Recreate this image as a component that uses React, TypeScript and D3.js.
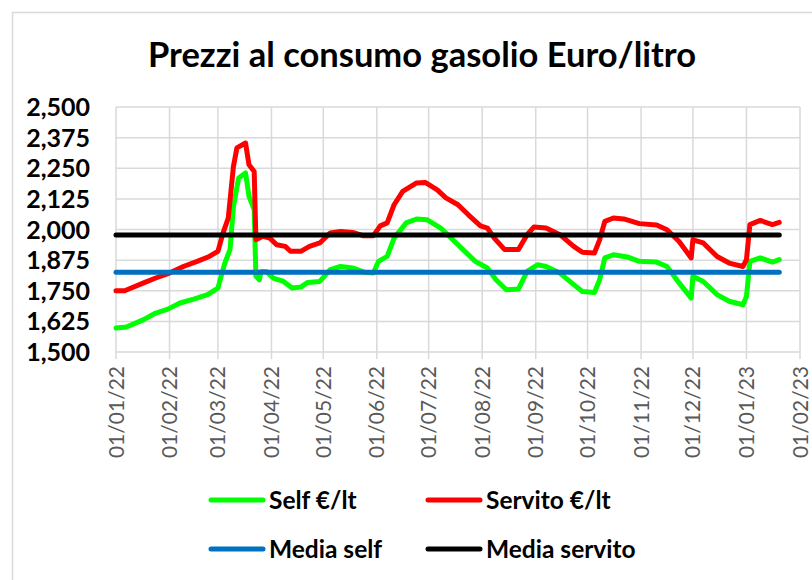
import { useEffect, useRef } from 'react'
import * as d3 from 'd3'

// Prezzi medi gasolio, data -> Euro/litro
const selfPrices: [string, number][] = [
  ['2022-01-01', 1.598], ['2022-01-07', 1.602], ['2022-01-17', 1.632], ['2022-01-24', 1.659],
  ['2022-01-31', 1.675], ['2022-02-07', 1.7], ['2022-02-15', 1.716], ['2022-02-23', 1.734],
  ['2022-03-01', 1.761], ['2022-03-05', 1.863], ['2022-03-08', 1.918], ['2022-03-10', 2.094],
  ['2022-03-13', 2.21], ['2022-03-17', 2.231], ['2022-03-19', 2.135], ['2022-03-22', 2.081],
  ['2022-03-23', 1.809], ['2022-03-25', 1.795], ['2022-03-26', 1.829], ['2022-03-29', 1.829],
  ['2022-04-02', 1.802], ['2022-04-08', 1.788], ['2022-04-13', 1.761], ['2022-04-18', 1.765],
  ['2022-04-22', 1.784], ['2022-04-29', 1.788], ['2022-05-05', 1.836], ['2022-05-11', 1.849],
  ['2022-05-18', 1.843], ['2022-05-25', 1.825], ['2022-05-30', 1.822], ['2022-06-02', 1.87],
  ['2022-06-07', 1.89], ['2022-06-11', 1.965], ['2022-06-18', 2.027], ['2022-06-24', 2.043],
  ['2022-06-30', 2.04], ['2022-07-08', 2.006], ['2022-07-18', 1.938], ['2022-07-20', 1.924],
  ['2022-07-28', 1.87], ['2022-08-04', 1.843], ['2022-08-09', 1.795], ['2022-08-15', 1.754],
  ['2022-08-22', 1.757], ['2022-08-27', 1.829], ['2022-09-02', 1.856], ['2022-09-07', 1.849],
  ['2022-09-15', 1.822], ['2022-09-23', 1.775], ['2022-09-28', 1.747], ['2022-10-05', 1.743],
  ['2022-10-08', 1.795], ['2022-10-11', 1.884], ['2022-10-16', 1.897], ['2022-10-24', 1.888],
  ['2022-10-31', 1.87], ['2022-11-10', 1.867], ['2022-11-16', 1.849], ['2022-11-23', 1.782],
  ['2022-11-30', 1.72], ['2022-12-01', 1.809], ['2022-12-07', 1.788], ['2022-12-15', 1.734],
  ['2022-12-22', 1.707], ['2022-12-30', 1.693], ['2023-01-01', 1.727], ['2023-01-03', 1.87],
  ['2023-01-09', 1.884], ['2023-01-16', 1.867], ['2023-01-20', 1.877],
]

const servitoPrices: [string, number][] = [
  ['2022-01-01', 1.75], ['2022-01-06', 1.75], ['2022-01-17', 1.782], ['2022-01-24', 1.802],
  ['2022-02-01', 1.822], ['2022-02-09', 1.849], ['2022-02-17', 1.87], ['2022-02-24', 1.89],
  ['2022-03-01', 1.911], ['2022-03-04', 1.986], ['2022-03-07', 2.047], ['2022-03-10', 2.258],
  ['2022-03-12', 2.333], ['2022-03-17', 2.353], ['2022-03-19', 2.264], ['2022-03-22', 2.237],
  ['2022-03-23', 1.958], ['2022-03-27', 1.972], ['2022-03-31', 1.965], ['2022-04-04', 1.938],
  ['2022-04-09', 1.931], ['2022-04-12', 1.911], ['2022-04-18', 1.911], ['2022-04-23', 1.931],
  ['2022-04-29', 1.945], ['2022-05-05', 1.986], ['2022-05-11', 1.992], ['2022-05-18', 1.988],
  ['2022-05-24', 1.975], ['2022-05-30', 1.975], ['2022-06-03', 2.015], ['2022-06-07', 2.027],
  ['2022-06-11', 2.101], ['2022-06-16', 2.156], ['2022-06-24', 2.19], ['2022-06-29', 2.192],
  ['2022-07-06', 2.162], ['2022-07-11', 2.129], ['2022-07-18', 2.101], ['2022-07-24', 2.06],
  ['2022-07-31', 2.015], ['2022-08-04', 2.006], ['2022-08-08', 1.965], ['2022-08-14', 1.918],
  ['2022-08-22', 1.918], ['2022-08-27', 1.979], ['2022-08-31', 2.01], ['2022-09-07', 2.006],
  ['2022-09-15', 1.979], ['2022-09-23', 1.931], ['2022-09-28', 1.907], ['2022-10-05', 1.904],
  ['2022-10-08', 1.958], ['2022-10-11', 2.033], ['2022-10-16', 2.047], ['2022-10-22', 2.043],
  ['2022-10-31', 2.024], ['2022-11-10', 2.018], ['2022-11-16', 1.999], ['2022-11-23', 1.951],
  ['2022-11-30', 1.884], ['2022-12-01', 1.958], ['2022-12-07', 1.945], ['2022-12-15', 1.89],
  ['2022-12-22', 1.863], ['2022-12-30', 1.849], ['2023-01-01', 1.877], ['2023-01-03', 2.02],
  ['2023-01-09', 2.037], ['2023-01-16', 2.02], ['2023-01-20', 2.029],
]

const mediaSelf = 1.826
const mediaServito = 1.978
const periodDates = ['2022-01-01', '2023-01-20']

const yTicks = [1.5, 1.625, 1.75, 1.875, 2.0, 2.125, 2.25, 2.375, 2.5]
const monthTicks = [
  '2022-01-01', '2022-02-01', '2022-03-01', '2022-04-01', '2022-05-01', '2022-06-01',
  '2022-07-01', '2022-08-01', '2022-09-01', '2022-10-01', '2022-11-01', '2022-12-01',
  '2023-01-01', '2023-02-01',
]

const legendItems = [
  { label: 'Self €/lt', color: '#00ff00', col: 0, row: 0 },
  { label: 'Servito €/lt', color: '#ff0000', col: 1, row: 0 },
  { label: 'Media self', color: '#0070c0', col: 0, row: 1 },
  { label: 'Media servito', color: '#000000', col: 1, row: 1 },
]

const W = 812
const H = 580
const FONT = 'Lato, "Open Sans", sans-serif'

export default function App() {
  const svgRef = useRef<SVGSVGElement | null>(null)

  useEffect(() => {
    if (!svgRef.current) return
    const svg = d3.select(svgRef.current)
    svg.selectAll('*').remove()

    const parse = d3.utcParse('%Y-%m-%d')
    const margin = { top: 107, right: 12, bottom: 228, left: 116 }
    const width = W - margin.left - margin.right
    const height = H - margin.top - margin.bottom

    const it = d3.formatLocale({ decimal: ',', thousands: '.', grouping: [3], currency: ['€', ''] })
    const fmtY = it.format('.3f')
    const fmtDate = d3.utcFormat('%d/%m/%y')

    // chart area border
    svg
      .append('rect')
      .attr('x', 12.5)
      .attr('y', 12.5)
      .attr('width', W)
      .attr('height', H)
      .attr('fill', '#fff')
      .attr('stroke', '#d9d9d9')
      .attr('stroke-width', 1.5)

    svg
      .append('text')
      .attr('x', 422)
      .attr('y', 67)
      .attr('text-anchor', 'middle')
      .attr('font-family', FONT)
      .attr('font-weight', 700)
      .attr('font-size', 34.5)
      .attr('fill', '#000')
      .text('Prezzi al consumo gasolio Euro/litro')

    const g = svg.append('g').attr('transform', `translate(${margin.left},${margin.top})`)

    const x = d3
      .scaleUtc()
      .domain([parse(monthTicks[0])!, parse(monthTicks[monthTicks.length - 1])!])
      .range([0, width])
    const y = d3.scaleLinear().domain([1.5, 2.5]).range([height, 0])

    // gridlines
    g.append('g')
      .selectAll('line')
      .data(yTicks)
      .join('line')
      .attr('x1', 0)
      .attr('x2', width)
      .attr('y1', (d) => y(d))
      .attr('y2', (d) => y(d))
      .attr('stroke', '#d9d9d9')
      .attr('stroke-width', 1.5)

    g.append('g')
      .selectAll('line')
      .data(monthTicks)
      .join('line')
      .attr('x1', (d) => x(parse(d)!))
      .attr('x2', (d) => x(parse(d)!))
      .attr('y1', 0)
      .attr('y2', height + 7)
      .attr('stroke', '#d9d9d9')
      .attr('stroke-width', 1.5)

    // y labels
    g.append('g')
      .selectAll('text')
      .data(yTicks)
      .join('text')
      .attr('x', -26)
      .attr('y', (d) => y(d))
      .attr('dy', '0.36em')
      .attr('text-anchor', 'end')
      .attr('font-family', FONT)
      .attr('font-weight', 700)
      .attr('font-size', 25)
      .attr('fill', '#000')
      .text((d) => fmtY(d))

    // x labels, rotated
    g.append('g')
      .selectAll('text')
      .data(monthTicks)
      .join('text')
      .attr('transform', (d) => `translate(${x(parse(d)!)},${height + 14}) rotate(-90)`)
      .attr('dy', '0.36em')
      .attr('text-anchor', 'end')
      .attr('font-family', FONT)
      .attr('font-size', 21)
      .attr('fill', '#595959')
      .text((d) => fmtDate(parse(d)!))

    const line = d3
      .line<[string, number]>()
      .x((d) => x(parse(d[0])!))
      .y((d) => y(d[1]))

    const series: { data: [string, number][]; color: string }[] = [
      { data: selfPrices, color: '#00ff00' },
      { data: servitoPrices, color: '#ff0000' },
      { data: periodDates.map((d) => [d, mediaSelf] as [string, number]), color: '#0070c0' },
      { data: periodDates.map((d) => [d, mediaServito] as [string, number]), color: '#000000' },
    ]
    g.append('g')
      .selectAll('path')
      .data(series)
      .join('path')
      .attr('d', (d) => line(d.data))
      .attr('fill', 'none')
      .attr('stroke', (d) => d.color)
      .attr('stroke-width', 5)
      .attr('stroke-linejoin', 'round')
      .attr('stroke-linecap', 'round')

    // legend
    const legend = svg.append('g')
    const items = legend
      .selectAll('g')
      .data(legendItems)
      .join('g')
      .attr('transform', (d) => `translate(${d.col === 0 ? 211 : 428},${d.row === 0 ? 500 : 549})`)
    items
      .append('line')
      .attr('x1', 0)
      .attr('x2', 52)
      .attr('stroke', (d) => d.color)
      .attr('stroke-width', 5)
      .attr('stroke-linecap', 'round')
    items
      .append('text')
      .attr('x', 58)
      .attr('dy', '0.36em')
      .attr('font-family', FONT)
      .attr('font-weight', 700)
      .attr('font-size', 24.5)
      .attr('fill', '#000')
      .text((d) => d.label)
  }, [])

  return (
    <div style={{ position: 'absolute', left: 0, top: 0 }}>
      <svg ref={svgRef} width={W} height={H} style={{ display: 'block' }}></svg>
    </div>
  )
}
